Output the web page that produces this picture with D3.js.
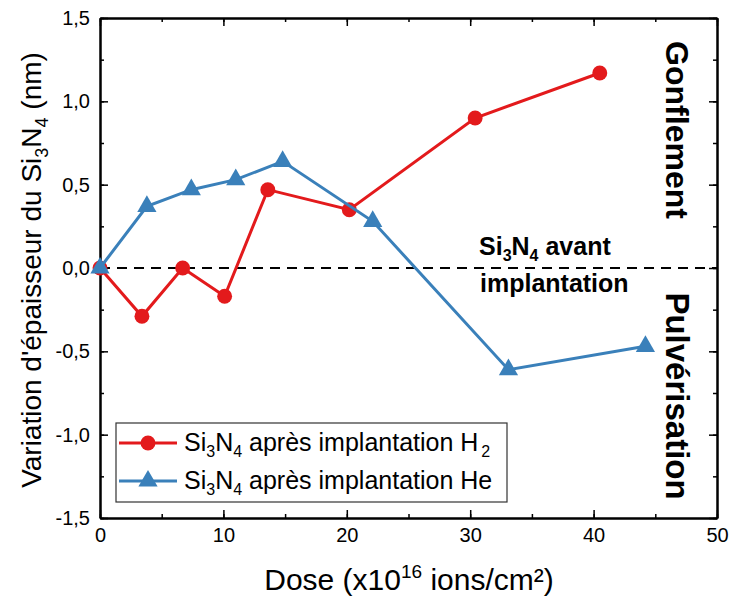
<!DOCTYPE html>
<html lang="en">
<head>
<meta charset="UTF-8">
<title>Variation d'épaisseur du Si3N4</title>
<script src="https://cdn.jsdelivr.net/npm/d3@7"></script>
<style>
    body { margin: 0; background: #fff; font-family: "Liberation Sans", Arial, sans-serif; }
    svg text { font-family: "Liberation Sans", Arial, sans-serif; }
</style>
</head>
<body>
<svg id="chart" width="732" height="601"></svg>
<script>
// data
const doseH2 = [0, 3.4, 6.7, 10.1, 13.6, 20.2, 30.4, 40.5];
const thickH2 = [0, -0.29, 0.0, -0.17, 0.47, 0.35, 0.90, 1.17];
const doseHe = [0, 3.8, 7.4, 11.0, 14.8, 22.1, 33.1, 44.2];
const thickHe = [0, 0.37, 0.47, 0.53, 0.64, 0.28, -0.61, -0.47];
const xTicks = [0, 10, 20, 30, 40, 50];
const yTicks = [-1.5, -1.0, -0.5, 0.0, 0.5, 1.0, 1.5];

const red = "#e31a1c", blue = "#3a80ba";
const svg = d3.select("#chart");
const m = {left: 100, right: 15, top: 18, bottom: 83};
const W = 732, H = 601;

const x = d3.scaleLinear().domain([0, 50]).range([m.left, W - m.right]);
const y = d3.scaleLinear().domain([-1.5, 1.5]).range([H - m.bottom, m.top]);
const fmt = d => d3.format(".1f")(d).replace(".", ",").replace("−", "-");

// zero reference line
svg.append("line")
    .attr("x1", x(0)).attr("x2", x(50))
    .attr("y1", y(0)).attr("y2", y(0))
    .attr("stroke", "#000").attr("stroke-width", 2)
    .attr("stroke-dasharray", "10,7");

// axes, ticks pointing inward
const minorX = d3.range(0, 51, 5), minorY = d3.range(-1.5, 1.51, 0.25);
function axisG(axis, tx, ty) {
    return svg.append("g").attr("transform", `translate(${tx},${ty})`).call(axis);
}
const bx = axisG(d3.axisBottom(x).tickValues(minorX).tickSizeInner(-4).tickSizeOuter(0).tickFormat(""), 0, y(-1.5));
const bx2 = axisG(d3.axisBottom(x).tickValues(xTicks).tickSizeInner(-8).tickSizeOuter(0).tickPadding(10).tickFormat(d3.format("d")), 0, y(-1.5));
const tx = axisG(d3.axisTop(x).tickValues(minorX).tickSizeInner(-4).tickSizeOuter(0).tickFormat(""), 0, y(1.5));
const tx2 = axisG(d3.axisTop(x).tickValues(xTicks).tickSizeInner(-8).tickSizeOuter(0).tickFormat(""), 0, y(1.5));
const ly = axisG(d3.axisLeft(y).tickValues(minorY).tickSizeInner(-4).tickSizeOuter(0).tickFormat(""), x(0), 0);
const ly2 = axisG(d3.axisLeft(y).tickValues(yTicks).tickSizeInner(-8).tickSizeOuter(0).tickPadding(10).tickFormat(fmt), x(0), 0);
const ry = axisG(d3.axisRight(y).tickValues(minorY).tickSizeInner(-4).tickSizeOuter(0).tickFormat(""), x(50), 0);
const ry2 = axisG(d3.axisRight(y).tickValues(yTicks).tickSizeInner(-8).tickSizeOuter(0).tickFormat(""), x(50), 0);
[bx, bx2, tx, tx2, ly, ly2, ry, ry2].forEach(g => {
    g.select(".domain").attr("stroke-width", 2);
    g.selectAll(".tick line").attr("stroke-width", 1.5);
    g.selectAll("text").attr("font-size", 20).attr("fill", "#000");
});

// series
function series(xs, ys, color, marker) {
    const pts = xs.map((d, i) => [d, ys[i]]);
    svg.append("path").datum(pts)
        .attr("fill", "none").attr("stroke", color).attr("stroke-width", 3)
        .attr("d", d3.line().x(d => x(d[0])).y(d => y(d[1])));
    svg.selectAll(null).data(pts).enter().append("path")
        .attr("transform", d => `translate(${x(d[0])},${y(d[1])})`)
        .attr("d", d3.symbol().type(marker).size(marker === d3.symbolCircle ? 175 : 160))
        .attr("fill", color);
}
series(doseH2, thickH2, red, d3.symbolCircle);
series(doseHe, thickHe, blue, d3.symbolTriangle);

// legend
const lg = svg.append("g");
lg.append("rect").attr("x", 116).attr("y", 423).attr("width", 391).attr("height", 79)
    .attr("fill", "#fff").attr("stroke", "#333").attr("stroke-width", 1.2);
const items = [
    {color: red, marker: d3.symbolCircle, ion: "H", sub: "2"},
    {color: blue, marker: d3.symbolTriangle, ion: "He", sub: null}
];
items.forEach((it, i) => {
    const cy = 443 + i * 38;
    lg.append("line").attr("x1", 119).attr("x2", 177).attr("y1", cy).attr("y2", cy)
        .attr("stroke", it.color).attr("stroke-width", 3);
    lg.append("path").attr("transform", `translate(148,${cy})`)
        .attr("d", d3.symbol().type(it.marker).size(it.marker === d3.symbolCircle ? 175 : 160))
        .attr("fill", it.color);
    const t = lg.append("text").attr("x", 184).attr("y", cy + 8).attr("font-size", 25).attr("fill", "#000");
    t.append("tspan").text("Si");
    t.append("tspan").text("3").attr("font-size", 16).attr("dy", 6);
    t.append("tspan").text("N").attr("dy", -6);
    t.append("tspan").text("4").attr("font-size", 16).attr("dy", 6);
    t.append("tspan").text(" après implantation " + it.ion).attr("dy", -6);
    if (it.sub) t.append("tspan").text(it.sub).attr("font-size", 16).attr("dy", 6).attr("dx", 3);
});

// annotations
const a1 = svg.append("text").attr("x", 479).attr("y", 255).attr("font-size", 25).attr("font-weight", "bold");
a1.append("tspan").text("Si");
a1.append("tspan").text("3").attr("font-size", 16).attr("dy", 6);
a1.append("tspan").text("N").attr("dy", -6);
a1.append("tspan").text("4").attr("font-size", 16).attr("dy", 6);
a1.append("tspan").text(" avant").attr("dy", -6);
svg.append("text").attr("x", 480).attr("y", 292).attr("font-size", 25).attr("font-weight", "bold").text("implantation");

svg.append("text").attr("transform", "translate(666,130) rotate(90)")
    .attr("text-anchor", "middle").attr("font-size", 32).attr("font-weight", "bold").text("Gonflement");
svg.append("text").attr("transform", "translate(666,396) rotate(90)")
    .attr("text-anchor", "middle").attr("font-size", 33).attr("font-weight", "bold").text("Pulvérisation");

// axis titles
const xt = svg.append("text").attr("x", 409).attr("y", 590).attr("text-anchor", "middle").attr("font-size", 30);
xt.append("tspan").text("Dose (x10");
xt.append("tspan").text("16").attr("font-size", 19).attr("dy", -12);
xt.append("tspan").text(" ions/cm²)").attr("dy", 12);

const yt = svg.append("text").attr("transform", "translate(41,270) rotate(-90)")
    .attr("text-anchor", "middle").attr("font-size", 28);
yt.append("tspan").text("Variation d'épaisseur du Si");
yt.append("tspan").text("3").attr("font-size", 18).attr("dy", 7);
yt.append("tspan").text("N").attr("dy", -7);
yt.append("tspan").text("4").attr("font-size", 18).attr("dy", 7);
yt.append("tspan").text(" (nm)").attr("dy", -7);
</script>
</body>
</html>
